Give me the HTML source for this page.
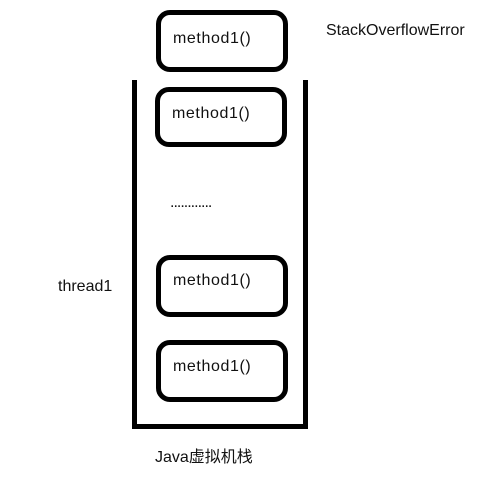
<!DOCTYPE html>
<html><head><meta charset="utf-8"><style>
body{margin:0;width:504px;height:477px;background:#fff;position:relative;overflow:hidden;font-family:"Liberation Sans","Noto Sans CJK SC",sans-serif;color:#111}
.b{position:absolute;border:5px solid #000;border-radius:14px;box-sizing:border-box;width:132px;height:62px}
.t{position:absolute;font-size:16px;white-space:nowrap}
.m{letter-spacing:0.6px}
.l{position:absolute;background:#000}
</style></head><body>
<div class="b" style="left:156px;top:10px"></div>
<div class="b" style="left:155px;top:87px;height:60px"></div>
<div class="b" style="left:156px;top:255px"></div>
<div class="b" style="left:156px;top:340px"></div>
<div class="l" style="left:132px;top:80px;width:5px;height:349px"></div>
<div class="l" style="left:303px;top:80px;width:5px;height:349px"></div>
<div class="l" style="left:132px;top:424px;width:176px;height:5px"></div>
<div class="t m" style="left:173px;top:30px">method1()</div>
<div class="t m" style="left:172px;top:105px">method1()</div>
<div class="t m" style="left:173px;top:272px">method1()</div>
<div class="t m" style="left:173px;top:358px">method1()</div>
<div class="t" style="left:326px;top:22px">StackOverflowError</div>
<div class="t" style="left:58px;top:278px">thread1</div>
<div class="t" style="left:155px;top:443px">Java虚拟机栈</div>
<div class="t" style="left:170px;top:194px;letter-spacing:-1px">............</div>
</body></html>
